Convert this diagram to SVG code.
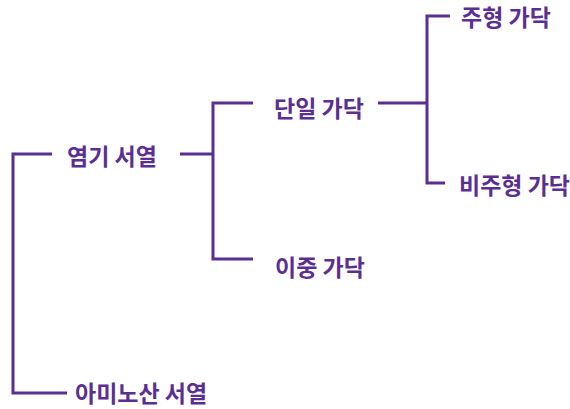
<svg xmlns="http://www.w3.org/2000/svg" width="570" height="409" viewBox="0 0 570 409">
<style>
.c{fill:none;stroke:#5b2e91;stroke-width:3;stroke-linecap:butt;stroke-linejoin:miter}
.t{font-family:"Noto Sans CJK KR","Noto Sans",sans-serif;font-weight:bold;font-size:23px;fill:#5b2e91}
</style>
<rect width="570" height="409" fill="#ffffff"/>
<g id="connectors">
<path class="c" d="M52,154 H13 V393 H67"/>
<path class="c" d="M180,154 H213"/>
<path class="c" d="M253,103 H213 V259 H253"/>
<path class="c" d="M378,103 H427"/>
<path class="c" d="M450,16 H427 V183 H445"/>
</g>
<g id="n1"><text class="t" x="67" y="165">염기 서열</text></g>
<g id="n2"><text class="t" x="274" y="117">단일 가닥</text></g>
<g id="n3"><text class="t" x="461" y="26">주형 가닥</text></g>
<g id="n4"><text class="t" x="459" y="194">비주형 가닥</text></g>
<g id="n5"><text class="t" x="275" y="276">이중 가닥</text></g>
<g id="n6"><text class="t" x="75" y="402">아미노산 서열</text></g>
</svg>
